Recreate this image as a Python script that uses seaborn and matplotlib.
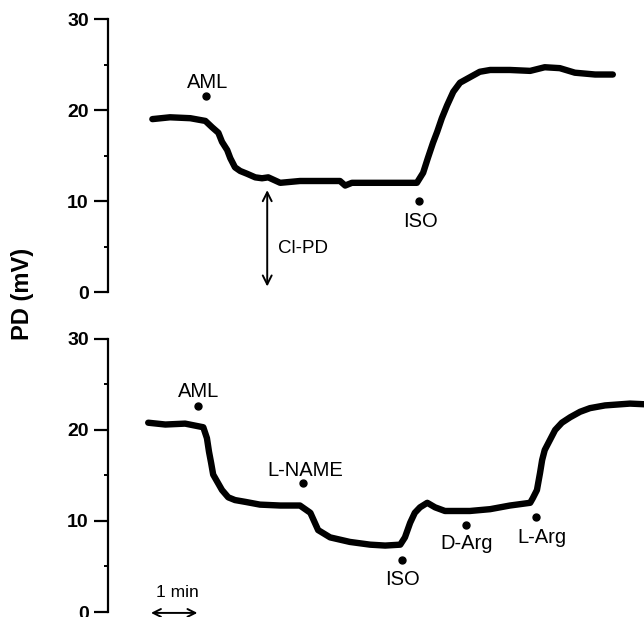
import matplotlib
matplotlib.use("Agg")
import matplotlib.pyplot as plt
import seaborn as sns
import pandas as pd

sns.set_theme(style="white")
plt.rcParams['font.family'] = ['Liberation Sans', 'DejaVu Sans']
plt.rcParams['text.color'] = 'black'
plt.rcParams['ytick.color'] = 'black'
plt.rcParams['ytick.labelcolor'] = 'black'

# time in minutes, PD in mV
top_t = [0.08, 0.42, 0.81, 1.10, 1.23, 1.35, 1.42, 1.52, 1.58, 1.67, 1.77, 1.90,
         2.06, 2.19, 2.31, 2.54, 2.92, 3.69, 3.79, 3.92, 4.27, 4.85, 5.17, 5.29,
         5.38, 5.48, 5.56, 5.65, 5.75, 5.87, 6.00, 6.19, 6.38, 6.58, 6.96, 7.35,
         7.63, 7.92, 8.21, 8.60, 8.94]
top_pd = [19.0, 19.2, 19.1, 18.8, 18.1, 17.5, 16.5, 15.6, 14.7, 13.7, 13.3, 13.0,
          12.6, 12.5, 12.6, 12.0, 12.2, 12.2, 11.7, 12.0, 12.0, 12.0, 12.0, 13.1,
          14.7, 16.4, 17.6, 19.1, 20.5, 22.0, 23.0, 23.6, 24.2, 24.4, 24.4, 24.3,
          24.7, 24.6, 24.1, 23.9, 23.9]

bot_t = [0.00, 0.33, 0.71, 1.06, 1.13, 1.17, 1.21, 1.25, 1.33, 1.42, 1.54, 1.67,
         1.87, 2.15, 2.54, 2.92, 3.02, 3.12, 3.27, 3.50, 3.88, 4.27, 4.56, 4.85,
         4.94, 5.04, 5.13, 5.23, 5.37, 5.52, 5.71, 6.19, 6.58, 6.96, 7.35, 7.40,
         7.48, 7.54, 7.58, 7.63, 7.73, 7.83, 7.96, 8.12, 8.31, 8.50, 8.79, 9.27,
         9.65]
bot_pd = [20.8, 20.6, 20.7, 20.3, 19.1, 17.6, 16.4, 15.1, 14.3, 13.4, 12.6, 12.3,
          12.1, 11.8, 11.7, 11.7, 11.3, 10.9, 9.0, 8.2, 7.7, 7.4, 7.3, 7.4,
          8.2, 9.8, 10.9, 11.5, 12.0, 11.5, 11.1, 11.1, 11.3, 11.7, 12.0, 12.5,
          13.4, 15.3, 16.7, 17.8, 18.9, 20.0, 20.8, 21.4, 22.0, 22.4, 22.7, 22.9,
          22.8]

# drug additions: label, dot time, dot PD, text time, text baseline PD
top_marks = [("AML", 1.12, 21.5, 1.15, 22.4),
             ("ISO", 5.21, 10.0, 5.23, 7.1)]
bot_marks = [("AML", 0.96, 22.6, 0.96, 23.6),
             ("L-NAME", 2.98, 14.2, 3.02, 14.9),
             ("ISO", 4.88, 5.7, 4.90, 3.0),
             ("D-Arg", 6.12, 9.6, 6.13, 6.9),
             ("L-Arg", 7.46, 10.4, 7.58, 7.6)]

fig = plt.figure(figsize=(6.44, 6.17), dpi=100)
ax1 = fig.add_axes([0.168, 0.5267, 0.832, 0.4425])
ax2 = fig.add_axes([0.168, 0.0081, 0.832, 0.4425])

traces = [(ax1, top_t, top_pd, top_marks), (ax2, bot_t, bot_pd, bot_marks)]
for ax, t, v, marks in traces:
    df = pd.DataFrame({"t": t, "pd": v})
    sns.lineplot(data=df, x="t", y="pd", ax=ax, color="black", lw=4.6,
                 estimator=None, sort=False, solid_joinstyle="round",
                 solid_capstyle="round")
    for lab, dt, dv, tt, tv in marks:
        ax.plot(dt, dv, "o", color="black", ms=5)
        ax.text(tt, tv, lab, ha="center", va="baseline", fontsize=14.5,
                color="black")
    ax.set_xlim(-0.77, 9.54)
    ax.set_ylim(0, 30)
    ax.set_yticks([0, 10, 20, 30])
    ax.set_yticks([5, 15, 25], minor=True)
    ax.set_xticks([])
    ax.set_xlabel("")
    ax.set_ylabel("")
    for s in ["top", "right", "bottom"]:
        ax.spines[s].set_visible(False)
    ax.spines["left"].set_linewidth(1.6)
    ax.spines["left"].set_color("black")
    ax.tick_params(axis="y", which="major", length=10, width=1.6, direction="out",
                   left=True, labelsize=14, pad=4, color="black",
                   labelcolor="black")
    ax.tick_params(axis="y", which="minor", length=3, width=1.4, direction="out",
                   left=True, color="black")
    for lbl in ax.get_yticklabels():
        lbl.set_fontweight("bold")
    ax.patch.set_alpha(0)

# Cl-PD double arrow in the top panel
ax1.annotate("", xy=(2.29, 0.3), xytext=(2.29, 11.5),
             arrowprops=dict(arrowstyle="<->", color="black", lw=1.4,
                             mutation_scale=16),
             annotation_clip=False)
ax1.text(2.50, 4.3, "Cl-PD", ha="left", va="baseline", fontsize=13.5,
         color="black")

# time scale bar in the bottom panel
ax2.annotate("", xy=(0.0, -0.1), xytext=(1.0, -0.1),
             arrowprops=dict(arrowstyle="<->", color="black", lw=1.4,
                             mutation_scale=14),
             annotation_clip=False)
ax2.text(0.56, 1.65, "1 min", ha="center", va="baseline", fontsize=12.5,
         color="black")

fig.text(22 / 644, 1 - 294 / 617, "PD (mV)", rotation=90, ha="center",
         va="center", fontsize=17, fontweight="bold", color="black")

fig.savefig("out.png", dpi=100)
